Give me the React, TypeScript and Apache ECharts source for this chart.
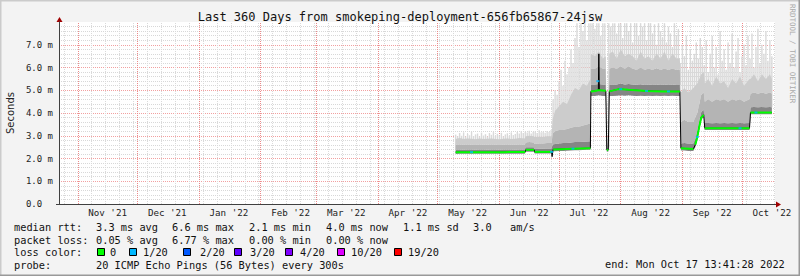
import React, { useEffect, useRef } from 'react';
import * as echarts from 'echarts';

const MONO = '"DejaVu Sans Mono", monospace';
const SANS = '"DejaVu Sans", sans-serif';

const title = 'Last 360 Days from smokeping-deployment-656fb65867-24jsw';
const yAxisName = 'Seconds';
const rangeStart = '2021-10-22T13:41:28';
const rangeEnd = '2022-10-17T13:41:28';
const monthLabels = ['2021-11', '2021-12', '2022-01', '2022-02', '2022-03', '2022-04', '2022-05', '2022-06', '2022-07', '2022-08', '2022-09', '2022-10'];
const monthAbbr = ['Jan', 'Feb', 'Mar', 'Apr', 'May', 'Jun', 'Jul', 'Aug', 'Sep', 'Oct', 'Nov', 'Dec'];
const yTickValues = [0, 1, 2, 3, 4, 5, 6, 7];

// smoke body (ping distribution) per time step
const smokeDates = [
  '2022-05-10T00:00', '2022-05-12T00:00', '2022-05-14T00:00', '2022-05-16T00:00', '2022-05-18T00:00', '2022-05-20T00:00',
  '2022-05-22T00:00', '2022-05-24T00:00', '2022-05-26T00:00', '2022-05-28T00:00', '2022-05-30T00:00', '2022-06-01T00:00',
  '2022-06-03T00:00', '2022-06-05T00:00', '2022-06-07T00:00', '2022-06-09T00:00', '2022-06-11T00:00', '2022-06-13T18:00',
  '2022-06-14T06:00', '2022-06-16T00:00', '2022-06-18T06:00', '2022-06-18T18:00', '2022-06-21T00:00', '2022-06-23T00:00',
  '2022-06-25T00:00', '2022-06-27T06:00',
  '2022-06-27T18:00', '2022-06-29T00:00', '2022-07-01T00:00', '2022-07-03T00:00', '2022-07-05T00:00', '2022-07-07T00:00',
  '2022-07-09T00:00', '2022-07-11T00:00', '2022-07-13T00:00', '2022-07-15T00:00', '2022-07-16T18:00',
  '2022-07-17T00:00', '2022-07-19T00:00', '2022-07-21T00:00', '2022-07-23T00:00', '2022-07-24T12:00',
  '2022-07-25T00:00', '2022-07-25T18:00',
  '2022-07-26T06:00', '2022-07-28T00:00', '2022-07-30T00:00', '2022-08-01T00:00', '2022-08-03T00:00', '2022-08-05T00:00',
  '2022-08-07T00:00', '2022-08-09T00:00', '2022-08-11T00:00', '2022-08-13T00:00', '2022-08-15T00:00', '2022-08-17T00:00',
  '2022-08-19T00:00', '2022-08-21T00:00', '2022-08-23T00:00', '2022-08-25T00:00', '2022-08-27T00:00', '2022-08-29T00:00',
  '2022-08-30T18:00',
  '2022-08-31T06:00', '2022-09-02T00:00', '2022-09-04T00:00', '2022-09-06T12:00',
  '2022-09-07T12:00', '2022-09-08T12:00', '2022-09-09T12:00', '2022-09-10T12:00', '2022-09-11T18:00',
  '2022-09-12T06:00', '2022-09-14T00:00', '2022-09-16T00:00', '2022-09-18T00:00', '2022-09-20T00:00', '2022-09-22T00:00',
  '2022-09-24T00:00', '2022-09-26T00:00', '2022-09-28T00:00', '2022-09-30T00:00', '2022-10-02T00:00', '2022-10-04T18:00',
  '2022-10-05T06:00', '2022-10-07T00:00', '2022-10-09T00:00', '2022-10-11T00:00', '2022-10-13T00:00', '2022-10-15T00:00',
  '2022-10-16T00:00',
];
const smokeLow = [
  2.20, 2.21, 2.21, 2.21, 2.21, 2.21, 2.21, 2.21, 2.21, 2.21, 2.21, 2.21, 2.21, 2.21, 2.21, 2.21, 2.21, 2.21,
  2.30, 2.30, 2.30, 2.22, 2.22, 2.22, 2.22, 2.22,
  2.32, 2.32, 2.33, 2.33, 2.34, 2.35, 2.36, 2.36, 2.37, 2.38, 2.38,
  4.75, 4.75, 4.78, 4.75, 4.75,
  2.30, 2.30,
  4.75, 4.75, 4.76, 4.78, 4.76, 4.78, 4.76, 4.75, 4.76, 4.75, 4.76, 4.75, 4.76, 4.75, 4.76, 4.75, 4.76, 4.75, 4.75,
  2.35, 2.35, 2.33, 2.33,
  2.50, 2.82, 3.30, 3.70, 3.82,
  3.25, 3.25, 3.25, 3.25, 3.25, 3.25, 3.25, 3.25, 3.25, 3.25, 3.25, 3.25,
  3.95, 3.95, 3.95, 3.95, 3.95, 3.95, 3.95,
];
const smokeDark = [
  2.40, 2.40, 2.39, 2.40, 2.40, 2.39, 2.40, 2.40, 2.39, 2.40, 2.40, 2.39, 2.40, 2.40, 2.40, 2.39, 2.40, 2.40,
  2.50, 2.50, 2.50, 2.42, 2.43, 2.43, 2.44, 2.44,
  2.62, 2.64, 2.66, 2.68, 2.68, 2.70, 2.72, 2.72, 2.74, 2.75, 2.76,
  5.25, 5.25, 5.28, 5.25, 5.25,
  2.48, 2.48,
  5.25, 5.25, 5.25, 5.30, 5.25, 5.28, 5.25, 5.24, 5.26, 5.23, 5.25, 5.23, 5.25, 5.23, 5.25, 5.23, 5.25, 5.23, 5.23,
  2.66, 2.68, 2.66, 2.66,
  2.86, 3.16, 3.64, 4.04, 4.14,
  3.56, 3.56, 3.55, 3.56, 3.55, 3.56, 3.55, 3.56, 3.55, 3.56, 3.55, 3.56,
  4.25, 4.26, 4.25, 4.26, 4.25, 4.26, 4.25,
];
const smokeMid = [
  2.60, 2.62, 2.60, 2.61, 2.60, 2.59, 2.61, 2.60, 2.60, 2.61, 2.60, 2.59, 2.60, 2.61, 2.60, 2.60, 2.61, 2.60,
  2.70, 2.72, 2.70, 2.64, 2.66, 2.66, 2.68, 2.68,
  3.10, 3.20, 3.25, 3.25, 3.30, 3.35, 3.40, 3.40, 3.45, 3.50, 3.55,
  5.95, 5.95, 6.05, 5.95, 5.95,
  2.60, 2.60,
  5.95, 6.00, 5.95, 6.05, 5.95, 6.05, 5.95, 5.90, 6.00, 5.90, 5.95, 5.90, 5.97, 5.90, 5.95, 5.90, 5.95, 5.90, 5.90,
  3.60, 3.70, 3.60, 3.60,
  3.80, 4.00, 4.40, 4.80, 4.90,
  4.50, 4.60, 4.50, 4.60, 4.55, 4.60, 4.50, 4.60, 4.55, 4.60, 4.50, 4.60,
  4.85, 4.90, 4.85, 4.90, 4.85, 4.90, 4.85,
];
const smokeLight = [
  2.86, 2.90, 2.86, 2.88, 2.87, 2.85, 2.88, 2.86, 2.87, 2.88, 2.86, 2.85, 2.87, 2.88, 2.86, 2.87, 2.90, 2.88,
  2.98, 3.00, 2.98, 2.94, 2.96, 2.95, 2.98, 2.98,
  3.70, 4.10, 4.30, 4.50, 4.40, 4.80, 5.10, 5.00, 5.30, 5.20, 5.50,
  6.60, 6.50, 6.70, 6.40, 6.50,
  2.70, 2.70,
  6.60, 6.70, 6.40, 6.80, 6.50, 6.60, 6.50, 6.30, 6.70, 6.40, 6.50, 6.30, 6.60, 6.40, 6.70, 6.30, 6.60, 6.40, 6.40,
  4.90, 5.10, 4.90, 5.10,
  5.20, 5.30, 5.50, 5.70, 5.80,
  5.30, 5.50, 5.20, 5.60, 5.30, 5.40, 5.10, 5.50, 5.30, 5.60, 5.20, 5.50,
  5.50, 5.70, 5.40, 5.70, 5.50, 5.70, 5.50,
];

// daily maximum of the smoke (top of the spikes), from May 10 2022
const spikeStart = '2022-05-10T00:00';
const spikeMax = [
  3.05, 2.98, 3.12, 3.00, 3.15, 2.97, 3.08, 3.02, 3.18, 2.99,
  3.06, 3.10, 2.98, 3.14, 3.01, 3.07, 2.97, 3.12, 3.04, 3.16,
  2.99, 3.09, 3.02, 3.13, 2.98, 3.06, 3.11, 3.00, 3.15, 3.03,
  3.08, 3.17, 3.10, 3.20, 3.12, 3.18, 3.14, 3.22, 3.10, 3.16,
  3.19, 3.12, 3.24, 3.15, 3.18, 3.13, 3.21, 3.16, 3.25,
  4.60, 5.00, 4.80, 5.40, 5.90, 5.20, 6.30, 5.70, 6.00, 6.80, 6.20, 7.30, 7.95, 6.90, 7.95, 7.60, 7.95, 7.20, 7.95,
  7.95, 7.95, 7.70, 7.95, 7.95, 7.40, 7.95, 7.95,
  2.90,
  7.95, 7.80, 7.95, 7.95, 7.50, 7.95, 7.95, 7.30, 7.95, 7.95, 7.60, 7.95, 7.10, 7.95, 7.95, 7.40, 7.95, 7.80,
  7.95, 7.20, 7.95, 7.95, 7.50, 7.90, 7.00, 7.95, 7.60, 7.30, 7.95, 7.10, 7.80, 7.50, 6.90, 7.95, 7.40, 7.70,
  6.20, 7.00, 6.50, 7.40, 5.90, 6.80, 6.30,
  6.60, 7.10, 6.40, 7.30, 6.90,
  6.10, 7.20, 5.80, 6.60, 7.40, 6.00, 6.90, 5.70, 7.60, 6.30, 6.80, 5.90, 7.10, 6.20, 7.50, 6.00, 6.70, 7.30, 5.80, 6.50, 7.00, 6.10, 7.40,
  6.40, 7.50, 6.00, 6.90, 7.70, 6.20, 7.00, 6.60, 7.60, 6.30, 7.20, 6.50,
];

// median rtt, drawn in green where packet loss is 0
const medianSegments: [string, number][][] = [
  [['2022-05-10T00:00', 2.28], ['2022-05-22T00:00', 2.27], ['2022-06-03T00:00', 2.28], ['2022-06-14T00:00', 2.29]],
  [['2022-06-14T06:00', 2.38], ['2022-06-18T12:00', 2.38]],
  [['2022-06-18T18:00', 2.29], ['2022-06-27T06:00', 2.29]],
  [['2022-06-28T00:00', 2.40], ['2022-07-05T00:00', 2.42], ['2022-07-12T00:00', 2.44], ['2022-07-16T18:00', 2.45]],
  [['2022-07-17T00:00', 4.95], ['2022-07-19T00:00', 4.97], ['2022-07-20T18:00', 5.00], ['2022-07-21T06:00', 5.00], ['2022-07-24T12:00', 4.98]],
  [['2022-07-25T00:00', 2.38], ['2022-07-25T18:00', 2.38]],
  [['2022-07-26T06:00', 4.95], ['2022-07-31T00:00', 5.05], ['2022-08-05T00:00', 5.02], ['2022-08-14T00:00', 4.97], ['2022-08-22T00:00', 4.95], ['2022-08-30T18:00', 4.95]],
  [['2022-08-31T06:00', 2.45], ['2022-09-06T12:00', 2.42]],
  [['2022-09-07T12:00', 2.60], ['2022-09-08T12:00', 2.95], ['2022-09-09T12:00', 3.40], ['2022-09-10T12:00', 3.80], ['2022-09-11T18:00', 3.92]],
  [['2022-09-12T06:00', 3.33], ['2022-09-25T00:00', 3.33], ['2022-10-04T18:00', 3.33]],
  [['2022-10-05T06:00', 4.02], ['2022-10-16T00:00', 4.02]],
];
const medianSpikes: [string, number][] = [['2022-06-27T12:00', 2.08], ['2022-07-21T00:00', 6.60]];
const lossPoints: [string, number][] = [
  ['2022-05-18T00:00', 2.28], ['2022-06-27T06:00', 2.29], ['2022-07-08T00:00', 2.43], ['2022-07-20T12:00', 5.40],
  ['2022-08-01T00:00', 5.05], ['2022-08-14T00:00', 4.97], ['2022-08-25T00:00', 4.95], ['2022-09-08T12:00', 2.95],
  ['2022-09-30T00:00', 3.33], ['2022-10-08T00:00', 4.02],
];

const legendRtt = ['median rtt:', '3.3 ms avg', '6.6 ms max', '2.1 ms min', '4.0 ms now', '1.1 ms sd', '3.0', 'am/s'];
const legendLoss = ['packet loss:', '0.05 % avg', '6.77 % max', '0.00 % min', '0.00 % now'];
const lossColorLabel = 'loss color:';
const lossLevels = ['0', '1/20', '2/20', '3/20', '4/20', '10/20', '19/20'];
const lossColors = ['#00ff00', '#00b8ff', '#0059ff', '#5e00ff', '#7e00ff', '#dd00ff', '#ff0000'];
const probeLabel = 'probe:';
const probeText = '20 ICMP Echo Pings (56 Bytes) every 300s';
const endText = 'end: Mon Oct 17 13:41:28 2022';
const creditText = 'RRDTOOL / TOBI OETIKER';

const ts = (s: string) => echarts.time.parse(s).getTime();
const DAY = 86400000;

export default function App() {
  const ref = useRef<HTMLDivElement>(null);
  useEffect(() => {
    document.body.style.margin = '0';
    if (!ref.current) return;
    const chart = echarts.init(ref.current, undefined, { renderer: 'svg' });

    const t0 = ts(rangeStart);
    const t1 = ts(rangeEnd);
    const monthStarts: number[] = [];
    for (let i = 0; i < 12; i++) monthStarts.push(new Date(2021, 10 + i, 1).getTime());
    const weekLines: number[] = [];
    for (let i = 0; ; i++) {
      const t = new Date(2021, 9, 25 + 7 * i).getTime();
      if (t >= t1) break;
      weekLines.push(t);
    }
    const labelValues = monthLabels.map((m) => ts(m + '-01T00:00') + 15 * DAY);

    const smokeTs = smokeDates.map(ts);
    const bandDefs = [
      { values: smokeLow, color: '' },
      { values: smokeDark.map((v, i) => v - smokeLow[i]), color: '#858585' },
      { values: smokeMid.map((v, i) => v - smokeDark[i]), color: '#b4b4b4' },
      { values: smokeLight.map((v, i) => v - smokeMid[i]), color: '#cccccc' },
    ];
    const smokeSeries = bandDefs.map((b) => ({
      type: 'line',
      stack: 'smoke',
      symbol: 'none',
      silent: true,
      lineStyle: { width: 0, opacity: 0 },
      areaStyle: b.color ? { color: b.color, opacity: 1 } : { opacity: 0 },
      data: smokeTs.map((t, i) => [t, b.values[i]]),
      z: 2,
    }));

    // spikes: each day from the smoke body of that moment up to the daily max
    const s0 = ts(spikeStart);
    const spikeData = spikeMax.map((v, i) => {
      const t = s0 + i * DAY;
      let k = 0;
      while (k + 1 < smokeTs.length && smokeTs[k + 1] <= t) k++;
      return [t, smokeDark[k], v];
    });
    const spikeSeries = {
      type: 'custom',
      silent: true,
      z: 2,
      encode: { x: 0, y: [1, 2] },
      data: spikeData,
      renderItem: (params: any, api: any) => {
        const top = api.coord([api.value(0), api.value(2)]);
        const bot = api.coord([api.value(0), api.value(1)]);
        return {
          type: 'rect',
          shape: { x: top[0] - 0.7, y: top[1], width: 1.4, height: Math.max(0, bot[1] - top[1]) },
          style: { fill: '#d9d9d9' },
        };
      },
    };

    const blackData = [...medianSegments.flat(), ...medianSpikes]
      .map(([d, v]) => [ts(d), v] as [number, number])
      .sort((a, b) => a[0] - b[0]);

    const greenSeries = medianSegments.map((seg) => ({
      type: 'line',
      symbol: 'none',
      silent: true,
      lineStyle: { width: 2, color: '#00ff00' },
      data: seg.map(([d, v]) => [ts(d), v]),
      z: 4,
    }));

    const legendX1 = [14, 96, 172, 249, 326, 403, 473, 510];
    const boxX = [97, 129, 183, 234, 285, 337, 394];
    const boxLabelX = [110, 143, 200, 250, 300, 351, 408];
    const lf = `10.3px ${MONO}`;
    const txt = (text: string, x: number, y: number) => ({
      type: 'text', x, y, silent: true,
      style: { text, font: lf, fill: '#111', align: 'left', verticalAlign: 'middle' },
    });

    const graphic: any[] = [
      { type: 'line', shape: { x1: 0, y1: 0.5, x2: 800, y2: 0.5 }, style: { stroke: '#cbcbcb', lineWidth: 2 } },
      { type: 'line', shape: { x1: 0.5, y1: 0, x2: 0.5, y2: 276 }, style: { stroke: '#cbcbcb', lineWidth: 2 } },
      { type: 'line', shape: { x1: 0, y1: 275.5, x2: 800, y2: 275.5 }, style: { stroke: '#999999', lineWidth: 2 } },
      { type: 'line', shape: { x1: 799.5, y1: 0, x2: 799.5, y2: 276 }, style: { stroke: '#999999', lineWidth: 2 } },
      { type: 'text', x: 400, y: 17, silent: true, style: { text: title, font: `12px ${MONO}`, fill: '#111', align: 'center', verticalAlign: 'middle' } },
      { type: 'text', x: 10, y: 113, rotation: Math.PI / 2, silent: true, style: { text: yAxisName, font: `10px ${SANS}`, fill: '#222', align: 'center', verticalAlign: 'middle' } },
      { type: 'text', x: 792, y: 4, rotation: -Math.PI / 2, silent: true, style: { text: creditText, font: `7.5px ${MONO}`, fill: '#aaaaaa', align: 'left', verticalAlign: 'middle' } },
      { type: 'line', shape: { x1: 59.5, y1: 22, x2: 59.5, y2: 20 }, style: { stroke: '#404040', lineWidth: 1 } },
      { type: 'polygon', shape: { points: [[59.5, 17], [56.5, 22], [62.5, 22]] }, style: { fill: '#a00000' } },
      { type: 'line', shape: { x1: 775, y1: 204.5, x2: 777, y2: 204.5 }, style: { stroke: '#404040', lineWidth: 1 } },
      { type: 'polygon', shape: { points: [[781, 204.5], [776, 201.5], [776, 207.5]] }, style: { fill: '#a00000' } },
      { type: 'line', shape: { x1: 56, y1: 204.5, x2: 59, y2: 204.5 }, style: { stroke: '#404040', lineWidth: 1 } },
    ];
    legendRtt.forEach((t, i) => graphic.push(txt(t, legendX1[i], 227)));
    legendLoss.forEach((t, i) => graphic.push(txt(t, legendX1[i], 239.5)));
    graphic.push(txt(lossColorLabel, 14, 252));
    lossLevels.forEach((t, i) => {
      graphic.push({ type: 'rect', shape: { x: boxX[i] + 0.5, y: 248.5, width: 7, height: 7 }, style: { fill: lossColors[i], stroke: '#000', lineWidth: 1 } });
      graphic.push(txt(t, boxLabelX[i], 252));
    });
    graphic.push(txt(probeLabel, 14, 264.5));
    graphic.push(txt(probeText, 96, 264.5));
    graphic.push(txt(endText, 605, 263.5));

    const option: any = {
      animation: false,
      backgroundColor: '#f3f3f3',
      grid: { left: 59, right: 25, top: 22, bottom: 72, show: true, backgroundColor: '#ffffff', borderWidth: 0 },
      xAxis: [
        {
          type: 'time',
          min: t0,
          max: t1,
          axisLine: { show: true, lineStyle: { color: '#404040', width: 1 } },
          axisTick: { show: false },
          splitLine: { show: false },
          axisLabel: { show: false },
        },
        {
          type: 'value',
          min: t0,
          max: t1,
          position: 'bottom',
          axisLine: { show: false },
          axisTick: { show: false },
          splitLine: { show: false },
          axisLabel: {
            customValues: labelValues,
            formatter: (v: number) => {
              const d = new Date(v);
              return monthAbbr[d.getMonth()] + " '" + String(d.getFullYear()).slice(2);
            },
            fontFamily: MONO,
            fontSize: 9.2,
            color: '#222',
            margin: 4,
            hideOverlap: false,
          },
        },
      ],
      yAxis: {
        type: 'value',
        min: 0,
        max: 8,
        interval: 1,
        axisLine: { show: true, lineStyle: { color: '#404040', width: 1 } },
        axisTick: { show: false },
        axisLabel: {
          showMaxLabel: false,
          formatter: (v: number) => (yTickValues.includes(v) ? (v === 0 ? '0.0\u00a0\u00a0' : v.toFixed(1) + ' m') : ''),
          fontFamily: MONO,
          fontSize: 9,
          color: '#222',
          margin: 6,
        },
        splitLine: { show: true, showMaxLine: false, showMinLine: false, lineStyle: { color: '#f2a0a0', type: [1, 1], width: 1 } },
        minorTick: { show: false, splitNumber: 5 },
        minorSplitLine: { show: true, lineStyle: { color: '#d8d8d8', type: [1, 1], width: 1 } },
      },
      series: [
        {
          type: 'line',
          data: [],
          silent: true,
          markLine: {
            z: 1,
            silent: true,
            symbol: ['none', 'none'],
            label: { show: false },
            animation: false,
            data: [
              ...weekLines.map((t) => ({ xAxis: t, lineStyle: { color: '#dadada', type: [1, 1], width: 1 } })),
              ...monthStarts.map((t) => ({ xAxis: t, lineStyle: { color: '#ec8a8a', type: [1, 1], width: 1 } })),
            ],
          },
        },
        spikeSeries,
        ...smokeSeries,
        {
          type: 'line',
          symbol: 'none',
          silent: true,
          lineStyle: { width: 1, color: '#000' },
          data: blackData,
          z: 3,
        },
        ...greenSeries,
        {
          type: 'scatter',
          symbol: 'rect',
          symbolSize: [3, 2],
          silent: true,
          itemStyle: { color: lossColors[1] },
          data: lossPoints.map(([d, v]) => [ts(d), v]),
          z: 5,
        },
      ],
      graphic,
    };
    chart.setOption(option);
    return () => chart.dispose();
  }, []);
  return <div ref={ref} style={{ width: 800, height: 276 }} />;
}
